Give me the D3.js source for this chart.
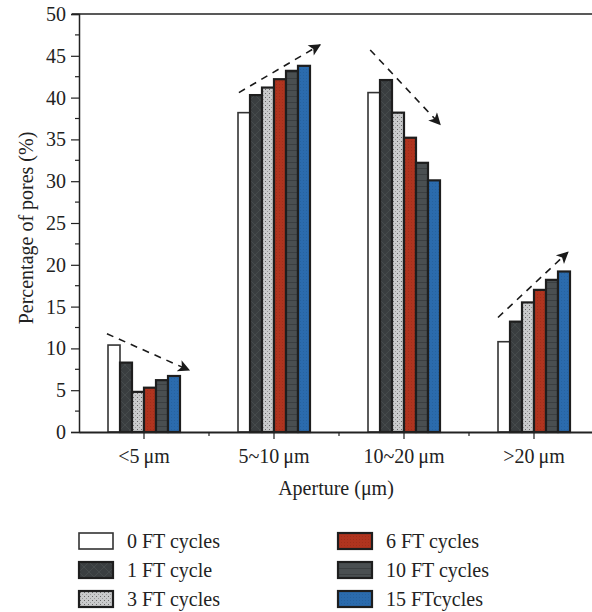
<!DOCTYPE html>
<html>
<head>
<meta charset="utf-8">
<script src="https://cdn.jsdelivr.net/npm/d3@7"></script>
<style>
  body { margin: 0; background: #fff; }
  svg { display: block; font-family: "Liberation Serif", "DejaVu Serif", serif; }
</style>
</head>
<body>
<script>
// categories and series
var categories = ["<5\u2009\u03bcm", "5~10\u2009\u03bcm", "10~20\u2009\u03bcm", ">20\u2009\u03bcm"];
var seriesNames = ["0 FT cycles", "1 FT cycle", "3 FT cycles", "6 FT cycles", "10 FT cycles", "15 FTcycles"];
var ft0 = [10.4, 38.2, 40.6, 10.8];
var ft1 = [8.3, 40.3, 42.1, 13.2];
var ft3 = [4.8, 41.2, 38.2, 15.5];
var ft6 = [5.3, 42.2, 35.2, 17.0];
var ft10 = [6.2, 43.2, 32.2, 18.2];
var ft15 = [6.7, 43.8, 30.1, 19.2];
var yTicks = [0, 5, 10, 15, 20, 25, 30, 35, 40, 45, 50];
// trend arrows: start/end as offset in band units from the category centre, and a value
var arrowCat = [0, 1, 2, 3];
var arrowX0 = [-0.285, -0.27, -0.26, -0.277];
var arrowV0 = [11.75, 40.6, 45.7, 13.7];
var arrowX1 = [0.346, 0.354, 0.277, 0.26];
var arrowV1 = [7.4, 46.3, 36.8, 21.5];

var allSeries = [ft0, ft1, ft3, ft6, ft10, ft15];
var fills = ["#ffffff", "url(#cross)", "url(#dots)", "url(#red)", "url(#hlines)", "url(#blue)"];
var strokes = ["#333", "#1e1e1e", "#1e1e1e", "#1e1e1e", "#1e1e1e", "#1e1e1e"];

var width = 592, height = 612;
var svg = d3.select("body").append("svg")
  .attr("width", width)
  .attr("height", height);

var defs = svg.append("defs");
// cross hatch on dark
var p = defs.append("pattern").attr("id", "cross").attr("patternUnits", "userSpaceOnUse")
  .attr("width", 10).attr("height", 10);
p.append("rect").attr("width", 10).attr("height", 10).attr("fill", "#3a3e40");
p.append("path").attr("d", "M0,0L10,10M10,0L0,10").attr("stroke", "#4b5052").attr("stroke-width", 0.7);
// dots on light gray
p = defs.append("pattern").attr("id", "dots").attr("patternUnits", "userSpaceOnUse")
  .attr("width", 4).attr("height", 4);
p.append("rect").attr("width", 4).attr("height", 4).attr("fill", "#c9cacb");
p.append("rect").attr("x", 1).attr("y", 1).attr("width", 1).attr("height", 1).attr("fill", "#666");
p.append("rect").attr("x", 3).attr("y", 3).attr("width", 1).attr("height", 1).attr("fill", "#999");
// red
p = defs.append("pattern").attr("id", "red").attr("patternUnits", "userSpaceOnUse")
  .attr("width", 3).attr("height", 3);
p.append("rect").attr("width", 3).attr("height", 3).attr("fill", "#b0341f");
p.append("rect").attr("width", 1).attr("height", 1).attr("fill", "#a02e1a");
// horizontal lines on dark gray
p = defs.append("pattern").attr("id", "hlines").attr("patternUnits", "userSpaceOnUse")
  .attr("width", 6).attr("height", 6);
p.append("rect").attr("width", 6).attr("height", 6).attr("fill", "#4a4f51");
p.append("path").attr("d", "M0,0.5H6").attr("stroke", "#3b3f41").attr("stroke-width", 1);
// blue
p = defs.append("pattern").attr("id", "blue").attr("patternUnits", "userSpaceOnUse")
  .attr("width", 3).attr("height", 3);
p.append("rect").attr("width", 3).attr("height", 3).attr("fill", "#2b6bad");
p.append("rect").attr("width", 1).attr("height", 1).attr("fill", "#26629f");

defs.append("marker").attr("id", "head").attr("viewBox", "0 0 10 10")
  .attr("refX", 9).attr("refY", 5).attr("markerWidth", 18).attr("markerHeight", 12)
  .attr("markerUnits", "userSpaceOnUse").attr("orient", "auto")
  .append("path").attr("d", "M0,0L10,5L0,10L2.5,5Z").attr("fill", "#1a1a1a");

var plotLeft = 79, plotRight = 599, plotTop = 14, plotBottom = 432;

var x = d3.scaleBand().domain(d3.range(categories.length)).range([plotLeft, plotRight]);
var x1 = d3.scaleBand().domain(d3.range(seriesNames.length)).range([-36, 36]);
var y = d3.scaleLinear().domain([0, 50]).range([plotBottom, plotTop]);

// bars
var groups = svg.selectAll("g.grp")
  .data(allSeries)
  .enter()
  .append("g")
  .attr("class", "grp");

groups.each(function (vals, s) {
  d3.select(this).selectAll("rect")
    .data(vals)
    .enter()
    .append("rect")
    .attr("x", function (d, i) { return x(i) + x.bandwidth() / 2 + x1(s); })
    .attr("y", function (d) { return y(d); })
    .attr("width", x1.bandwidth())
    .attr("height", function (d) { return y(0) - y(d); })
    .attr("fill", fills[s])
    .attr("stroke", strokes[s])
    .attr("stroke-width", s === 0 ? 1.6 : 2.2);
});

// frame: top line
svg.append("line").attr("x1", 72).attr("x2", width).attr("y1", plotTop).attr("y2", plotTop)
  .attr("stroke", "#222").attr("stroke-width", 1.5);

// y axis
var yAxis = svg.append("g").attr("transform", "translate(" + plotLeft + ",0)")
  .call(d3.axisLeft(y).tickValues(yTicks).tickSize(8).tickPadding(5));
yAxis.select(".domain").attr("stroke", "#222").attr("stroke-width", 1.5);
yAxis.selectAll(".tick line").attr("stroke", "#222").attr("stroke-width", 1.2);
yAxis.selectAll("text").attr("font-size", "20px").attr("font-family", "Liberation Serif").attr("fill", "#222");
// minor y ticks
svg.append("g").selectAll("line")
  .data(d3.range(2.5, 50, 5))
  .enter()
  .append("line")
  .attr("x1", plotLeft - 4).attr("x2", plotLeft)
  .attr("y1", function (d) { return y(d); })
  .attr("y2", function (d) { return y(d); })
  .attr("stroke", "#222").attr("stroke-width", 1.2);

// x axis
var xAxis = svg.append("g").attr("transform", "translate(0," + plotBottom + ")")
  .call(d3.axisBottom(x).tickFormat(function (i) { return categories[i]; }).tickSize(7).tickSizeOuter(0).tickPadding(10));
xAxis.select(".domain").attr("stroke", "#222").attr("stroke-width", 2);
xAxis.selectAll(".tick line").attr("stroke", "#222").attr("stroke-width", 1.2);
xAxis.selectAll("text").attr("font-size", "20px").attr("font-family", "Liberation Serif").attr("fill", "#222");
// minor x ticks between categories
svg.append("g").selectAll("line")
  .data(d3.range(1, categories.length))
  .enter()
  .append("line")
  .attr("x1", function (i) { return x(i); })
  .attr("x2", function (i) { return x(i); })
  .attr("y1", plotBottom).attr("y2", plotBottom + 4)
  .attr("stroke", "#222").attr("stroke-width", 1.2);

// axis titles
svg.append("text")
  .attr("x", 336).attr("y", 495)
  .attr("text-anchor", "middle").attr("font-size", "20px").attr("fill", "#222")
  .text("Aperture (\u03bcm)");
svg.append("text")
  .attr("transform", "translate(33," + ((plotTop + plotBottom) / 2 + 5) + ") rotate(-90)")
  .attr("text-anchor", "middle").attr("font-size", "20px").attr("fill", "#222")
  .text("Percentage of pores (%)");

// trend arrows
svg.append("g").selectAll("line")
  .data(arrowCat)
  .enter()
  .append("line")
  .attr("x1", function (c, i) { return x(c) + x.bandwidth() / 2 + arrowX0[i] * x.bandwidth(); })
  .attr("y1", function (c, i) { return y(arrowV0[i]); })
  .attr("x2", function (c, i) { return x(c) + x.bandwidth() / 2 + arrowX1[i] * x.bandwidth(); })
  .attr("y2", function (c, i) { return y(arrowV1[i]); })
  .attr("stroke", "#1a1a1a").attr("stroke-width", 1.6)
  .attr("stroke-dasharray", "7,6")
  .attr("marker-end", "url(#head)");

// legend
var legend = svg.append("g").selectAll("g")
  .data(seriesNames)
  .enter()
  .append("g")
  .attr("transform", function (d, i) {
    return "translate(" + (i < 3 ? 79 : 338) + "," + (533 + (i % 3) * 29) + ")";
  });
legend.append("rect")
  .attr("width", 34).attr("height", 16)
  .attr("fill", function (d, i) { return fills[i]; })
  .attr("stroke", function (d, i) { return strokes[i]; })
  .attr("stroke-width", function (d, i) { return i === 0 ? 1.6 : 2.2; });
legend.append("text")
  .attr("x", 48).attr("y", 15)
  .attr("font-size", "20px").attr("fill", "#222")
  .text(function (d) { return d; });
</script>
</body>
</html>
